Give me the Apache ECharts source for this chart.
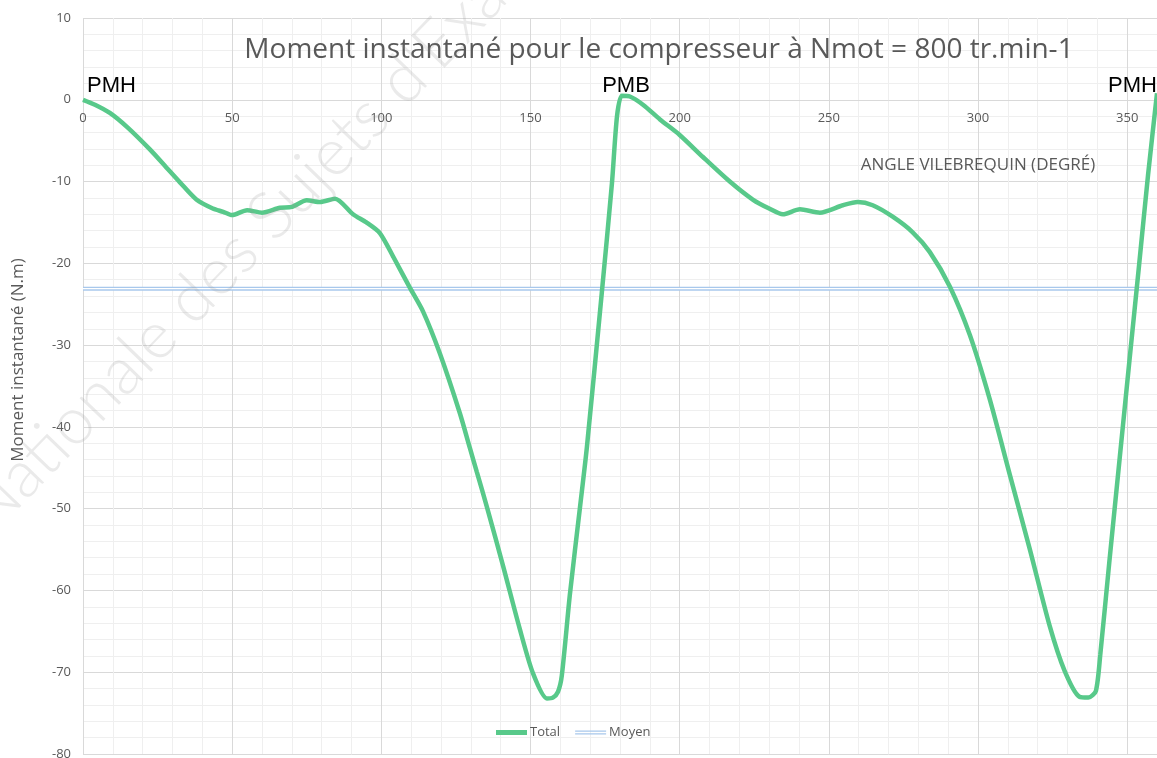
<!DOCTYPE html>
<html>
<head>
<meta charset="utf-8">
<script src="https://cdn.jsdelivr.net/npm/echarts@6/dist/echarts.min.js"></script>
<style>
html,body{margin:0;padding:0;background:#fff;}
#c{width:1157px;height:758px;}
</style>
</head>
<body>
<div id="c"></div>
<script>
// Crank angle (degrees) and instantaneous torque (N.m)
var angles = [0,4,9,15,22.5,28,32.5,38,43.5,47,50,55,60,66,70,75,79.5,84.5,90.5,95,99.5,104,109.6,114,119.6,126.3,129.7,132,135.4,140.8,146.4,150.8,155.5,157.5,159.2,160.5,163.2,166.6,168.9,173.9,177.3,179,180.6,183.3,187.7,193.4,200,207.8,216.8,224.5,230,234.6,240.3,247,254.7,259.7,264.7,271.4,278.1,283.8,290.5,297.3,304,310.7,317.4,324,329,334,337,339.5,341,344,347.5,350.9,354,357,360];
var totalValues = [0,-0.6,-1.6,-3.4,-6.1,-8.3,-10.1,-12.2,-13.3,-13.7,-14.1,-13.5,-13.8,-13.2,-13.1,-12.3,-12.5,-12.1,-14.0,-15.0,-16.3,-19.2,-23.0,-25.9,-31.0,-38.3,-42.6,-45.5,-49.8,-57.0,-64.7,-70.1,-73.2,-73.1,-72.4,-70.4,-60.5,-49.8,-42.5,-23.6,-10.2,-2.0,0.5,0.4,-0.6,-2.4,-4.3,-7.0,-10.0,-12.2,-13.3,-14.0,-13.4,-13.8,-12.9,-12.5,-12.9,-14.3,-16.2,-18.6,-22.8,-28.8,-36.7,-45.9,-55.0,-64.3,-69.8,-73.0,-73.1,-72.3,-67.8,-56.6,-43.8,-31.4,-20.2,-9.2,0.8];
var moyenValue = -23.1;
var moyenRange = [0, 360];
var xTicks = {min: 0, max: 360, interval: 50};
var yTicks = {min: -80, max: 10, interval: 10};
var markers = [{text: 'PMH', angle: 0}, {text: 'PMB', angle: 182}, {text: 'PMH', angle: 360}];

var totalData = angles.map(function (a, i) { return [a, totalValues[i]]; });
var moyenData = moyenRange.map(function (a) { return [a, moyenValue]; });

var chart = echarts.init(document.getElementById('c'));
var FONT = "'Open Sans', 'Noto Sans', sans-serif";
var W = 1157, H = 758;
var grid = {left: 83, right: 0, top: 18, bottom: 4, outerBoundsMode: 'none', containLabel: false};
var plotH = H - grid.top - grid.bottom;
var zeroFromBottom = plotH * (0 - yTicks.min) / (yTicks.max - yTicks.min);

var option = {
  backgroundColor: '#ffffff',
  animation: false,
  grid: grid,
  xAxis: {
    type: 'value', min: xTicks.min, max: xTicks.max, interval: xTicks.interval,
    position: 'bottom', offset: -zeroFromBottom,
    axisLine: {show: true, onZero: false, lineStyle: {color: '#d9d9d9', width: 1}},
    axisTick: {show: false},
    minorTick: {show: false, splitNumber: 5},
    axisLabel: {color: '#595959', fontSize: 13, fontFamily: FONT, margin: 12, showMaxLabel: false},
    splitLine: {show: true, lineStyle: {color: '#d9d9d9', width: 1}},
    minorSplitLine: {show: true, lineStyle: {color: '#efefef', width: 1}}
  },
  yAxis: {
    type: 'value', min: yTicks.min, max: yTicks.max, interval: yTicks.interval,
    axisLine: {show: false},
    axisTick: {show: false},
    minorTick: {show: false, splitNumber: 5},
    axisLabel: {color: '#595959', fontSize: 13, fontFamily: FONT, margin: 12},
    splitLine: {show: true, lineStyle: {color: '#d9d9d9', width: 1}},
    minorSplitLine: {show: true, lineStyle: {color: '#efefef', width: 1}}
  },
  legend: {
    left: 496, top: 726, padding: 0,
    itemWidth: 31, itemHeight: 14, itemGap: 15,
    textStyle: {color: '#595959', fontSize: 13, fontFamily: FONT, padding: [0,0,0,-2]},
    data: [
      {name: 'Total', icon: 'path://M0,0H31V5H0Z'},
      {name: 'Moyen', icon: 'path://M0,0H31V1.3H0Z M0,2.7H31V4H0Z'}
    ]
  },
  series: [
    {
      name: 'Moyen', type: 'line', data: moyenData, showSymbol: false, silent: true,
      color: '#a8c8ec',
      lineStyle: {color: '#a8c8ec', width: 4}, z: 2
    },
    {
      name: 'MoyenInner', type: 'line', data: moyenData, showSymbol: false, silent: true,
      lineStyle: {color: '#ffffff', width: 1.3}, z: 3
    },
    {
      name: 'Total', type: 'line', data: totalData, showSymbol: false, smooth: 0.25,
      color: '#58c98a',
      lineStyle: {color: '#58c98a', width: 4.5}, z: 5
    }
  ],
  graphic: []
};
chart.setOption(option);

function place() {
  var g = [];
  markers.forEach(function (m) {
    var p = chart.convertToPixel({gridIndex: 0}, [m.angle, 0]);
    var x = p[0], align = 'center';
    if (m.angle === xTicks.min) { x = p[0] + 4; align = 'left'; }
    else if (m.angle === xTicks.max) { x = p[0]; align = 'right'; }
    g.push({type: 'text', x: x, y: p[1] - 14, z: 10,
      style: {text: m.text, fill: '#000000', font: "22px 'Liberation Sans', Arial, sans-serif", textAlign: align, textVerticalAlign: 'middle'}});
  });
  g.push({type: 'text', x: 659, y: 50, z: 10,
    style: {text: 'Moment instantané pour le compresseur à Nmot = 800 tr.min-1', fill: '#595959', font: "28px " + FONT, textAlign: 'center', textVerticalAlign: 'middle'}});
  g.push({type: 'text', x: 978, y: 165, z: 10,
    style: {text: 'ANGLE VILEBREQUIN (DEGRÉ)', fill: '#595959', font: "17px " + FONT, textAlign: 'center', textVerticalAlign: 'middle'}});
  g.push({type: 'text', x: 18, y: 360, rotation: Math.PI / 2, z: 10,
    style: {text: 'Moment instantané (N.m)', fill: '#595959', font: "17px " + FONT, textAlign: 'center', textVerticalAlign: 'middle'}});
  g.push({type: 'text', x: 0, y: 545, rotation: Math.PI * 46 / 180, z: 20, silent: true,
    style: {text: "Nationale des Sujets d'Examens", fill: 'rgba(150,150,150,0.2)', font: "300 66px Lato, " + FONT, textAlign: 'left', textVerticalAlign: 'bottom'}});
  chart.setOption({graphic: g});
}
place();
</script>
</body>
</html>
